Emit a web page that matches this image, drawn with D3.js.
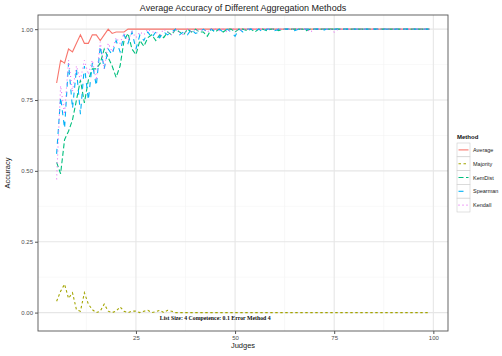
<!DOCTYPE html>
<html><head><meta charset="utf-8">
<script src="https://cdn.jsdelivr.net/npm/d3@7"></script>
<style>body{margin:0;background:#fff}svg{display:block}</style>
</head><body><svg id="c" width="502" height="356" font-family="Liberation Sans, Arial, sans-serif"></svg>
<script>
const judgesStart = 5;
const methods = ["Average","Majority","KemDist","Spearman","Kendall"];
const colors = ["#F8766D","#A3A500","#00BF7D","#00B0F6","#E76BF3"];
const dashes = [null,"2.5,2.5","5,2.5","5,5","1,3"];
const xTicks = [25,50,75,100];
const yTicks = [0,0.25,0.5,0.75,1];
const yTickLabels = ["0.00","0.25","0.50","0.75","1.00"];

// judges 5..99
const average = [
0.81,0.89,0.88,0.93,0.92,0.95,0.98,0.95,0.95,0.98,
0.98,0.96,0.98,1.00,0.985,0.99,0.99,0.99,1,1,
1,1,1,1,1,1,1,1,1,1,
1,1,1,1,1,1,1,1,1,1,
1,1,1,1,1,1,1,1,1,1,
1,1,1,1,1,1,1,1,1,1,
1,1,1,1,1,1,1,1,1,1,
1,1,1,1,1,1,1,1,1,1,
1,1,1,1,1,1,1,1,1,1,
1,1,1,1,1];
const majority = [
0.04,0.075,0.10,0.05,0.07,0.01,0.005,0.07,0.03,0.01,
0,0.005,0.03,0.005,0,0.005,0.02,0.005,0,0.005,
0.005,0,0.005,0.008,0,0.003,0.008,0,0.008,0.005,
0,0,0,0,0,0,0,0,0,0,
0,0,0,0,0,0,0,0,0,0,
0,0,0,0,0,0,0,0,0,0,
0,0,0,0,0,0,0,0,0,0,
0,0,0,0,0,0,0,0,0,0,
0,0,0,0,0,0,0,0,0,0,
0,0,0,0,0];
const kemdist = [
0.53,0.49,0.61,0.64,0.68,0.75,0.82,0.74,0.82,0.86,
0.86,0.88,0.93,0.90,0.87,0.83,0.87,0.96,0.985,0.93,
0.91,0.96,0.94,0.97,0.98,0.96,0.98,0.97,0.99,0.98,
1,0.99,0.98,1,0.99,1,0.99,0.99,0.975,1,
0.99,1,0.99,1,1,0.99,1,1,0.995,1,
0.99,1,1,0.995,1,1,0.995,1,1,1,
1,1,1,0.995,1,1,1,1,1,1,
1,1,1,1,1,1,1,1,1,1,
1,1,1,1,1,1,1,1,1,1,
1,1,1,1,1];
const spearman = [
0.56,0.76,0.65,0.88,0.72,0.86,0.70,0.87,0.75,0.88,
0.80,0.94,0.86,0.93,0.91,0.96,0.92,0.98,0.95,0.99,
0.93,0.98,0.96,0.99,0.97,0.99,0.97,0.99,0.98,0.99,
1,0.98,0.99,0.98,1,0.985,0.99,1,0.99,1,
0.99,1,0.99,1,0.99,0.975,1,0.99,1,1,
0.995,1,0.99,1,1,0.995,1,1,1,1,
0.995,1,1,1,1,1,1,0.995,1,1,
1,1,1,1,1,1,1,1,1,1,
1,1,1,1,1,1,1,1,1,1,
1,1,1,1,1];
const kendall = [
0.47,0.80,0.70,0.89,0.78,0.87,0.82,0.89,0.84,0.89,
0.82,0.955,0.86,0.95,0.92,0.97,0.95,0.985,0.96,0.99,
0.97,0.99,0.98,1,0.99,0.99,0.98,1,0.99,0.98,
1,0.99,0.98,1,0.99,1,0.995,1,0.99,1,
1,0.995,1,0.99,1,1,0.995,1,1,1,
1,1,1,1,1,1,1,1,1,1,
1,1,1,1,0.99,1,1,1,1,1,
0.99,1,1,1,1,1,1,1,1,1,
1,1,1,1,1,1,1,1,1,1,
1,1,1,1,1];
const seriesValues = [average, majority, kemdist, spearman, kendall];
const annotation = "List Size: 4 Competence: 0.1 Error Method 4";

const svg = d3.select("#c");
const L=38,R=448,T=15,B=331;
const x = d3.scaleLinear().domain([0.3,103.7]).range([L,R]);
const y = d3.scaleLinear().domain([-0.065,1.05]).range([B,T]);

// grid
const g = svg.append("g");
const minorX=[12.5,37.5,62.5,87.5], minorY=[0.125,0.375,0.625,0.875];
g.selectAll(".mx").data(minorX).enter().append("line").attr("x1",d=>x(d)).attr("x2",d=>x(d)).attr("y1",T).attr("y2",B).attr("stroke","#f4f4f4").attr("stroke-width",0.6);
g.selectAll(".my").data(minorY).enter().append("line").attr("y1",d=>y(d)).attr("y2",d=>y(d)).attr("x1",L).attr("x2",R).attr("stroke","#f4f4f4").attr("stroke-width",0.6);
g.selectAll(".gx").data(xTicks).enter().append("line").attr("x1",d=>x(d)).attr("x2",d=>x(d)).attr("y1",T).attr("y2",B).attr("stroke","#e6e6e6").attr("stroke-width",1.1);
g.selectAll(".gy").data(yTicks).enter().append("line").attr("y1",d=>y(d)).attr("y2",d=>y(d)).attr("x1",L).attr("x2",R).attr("stroke","#e6e6e6").attr("stroke-width",1.1);

// lines
const line = d3.line().x((d,i)=>x(judgesStart+i)).y(d=>y(d));
seriesValues.forEach((vals,k)=>{
  svg.append("path").datum(vals).attr("d",line).attr("fill","none")
    .attr("stroke",colors[k]).attr("stroke-width",1.1)
    .attr("stroke-dasharray",dashes[k]);
});

// annotation
svg.append("text").attr("x",x(45)).attr("y",y(-0.025)).attr("text-anchor","middle")
  .style("font-family","'Liberation Serif', 'Times New Roman', serif").attr("font-weight","bold").attr("font-size",5.8).attr("fill","#111").text(annotation);

// border
svg.append("rect").attr("x",L).attr("y",T).attr("width",R-L).attr("height",B-T).attr("fill","none").attr("stroke","#555").attr("stroke-width",0.9);

// axes
const xa = svg.append("g").attr("transform",`translate(0,${B})`).call(d3.axisBottom(x).tickValues(xTicks).tickSize(3).tickPadding(2));
const ya = svg.append("g").attr("transform",`translate(${L},0)`).call(d3.axisLeft(y).tickValues(yTicks).tickFormat((d,i)=>yTickLabels[i]).tickSize(3).tickPadding(2));
[xa,ya].forEach(a=>{a.select(".domain").remove();a.selectAll("line").attr("stroke","#555");a.selectAll("text").attr("font-size",6).attr("fill","#4d4d4d").attr("font-family","Liberation Sans, Arial, sans-serif");});

// titles
svg.append("text").attr("x",(L+R)/2).attr("y",11).attr("text-anchor","middle").attr("font-size",9).attr("fill","#222").text("Average Accuracy of Different Aggregation Methods");
svg.append("text").attr("x",(L+R)/2).attr("y",348).attr("text-anchor","middle").attr("font-size",7.5).attr("fill","#222").text("Judges");
svg.append("text").attr("transform",`translate(10,${(T+B)/2}) rotate(-90)`).attr("text-anchor","middle").attr("font-size",7.5).attr("fill","#222").text("Accuracy");

// legend
const lg = svg.append("g").attr("transform","translate(457,139)");
lg.append("text").attr("x",0).attr("y",0).attr("font-size",6).attr("font-weight","bold").attr("fill","#111").text("Method");
const kh=13.8;
methods.forEach((m,k)=>{
  const yy=4+k*kh;
  lg.append("rect").attr("x",0).attr("y",yy).attr("width",13).attr("height",kh).attr("fill","#fff").attr("stroke","#ccc").attr("stroke-width",0.6);
  lg.append("line").attr("x1",1.5).attr("x2",11.5).attr("y1",yy+kh/2).attr("y2",yy+kh/2).attr("stroke",colors[k]).attr("stroke-width",1.1).attr("stroke-dasharray",dashes[k]);
  lg.append("text").attr("x",16).attr("y",yy+kh/2+2).attr("font-size",5.5).attr("fill","#222").text(m);
});
</script></body></html>
